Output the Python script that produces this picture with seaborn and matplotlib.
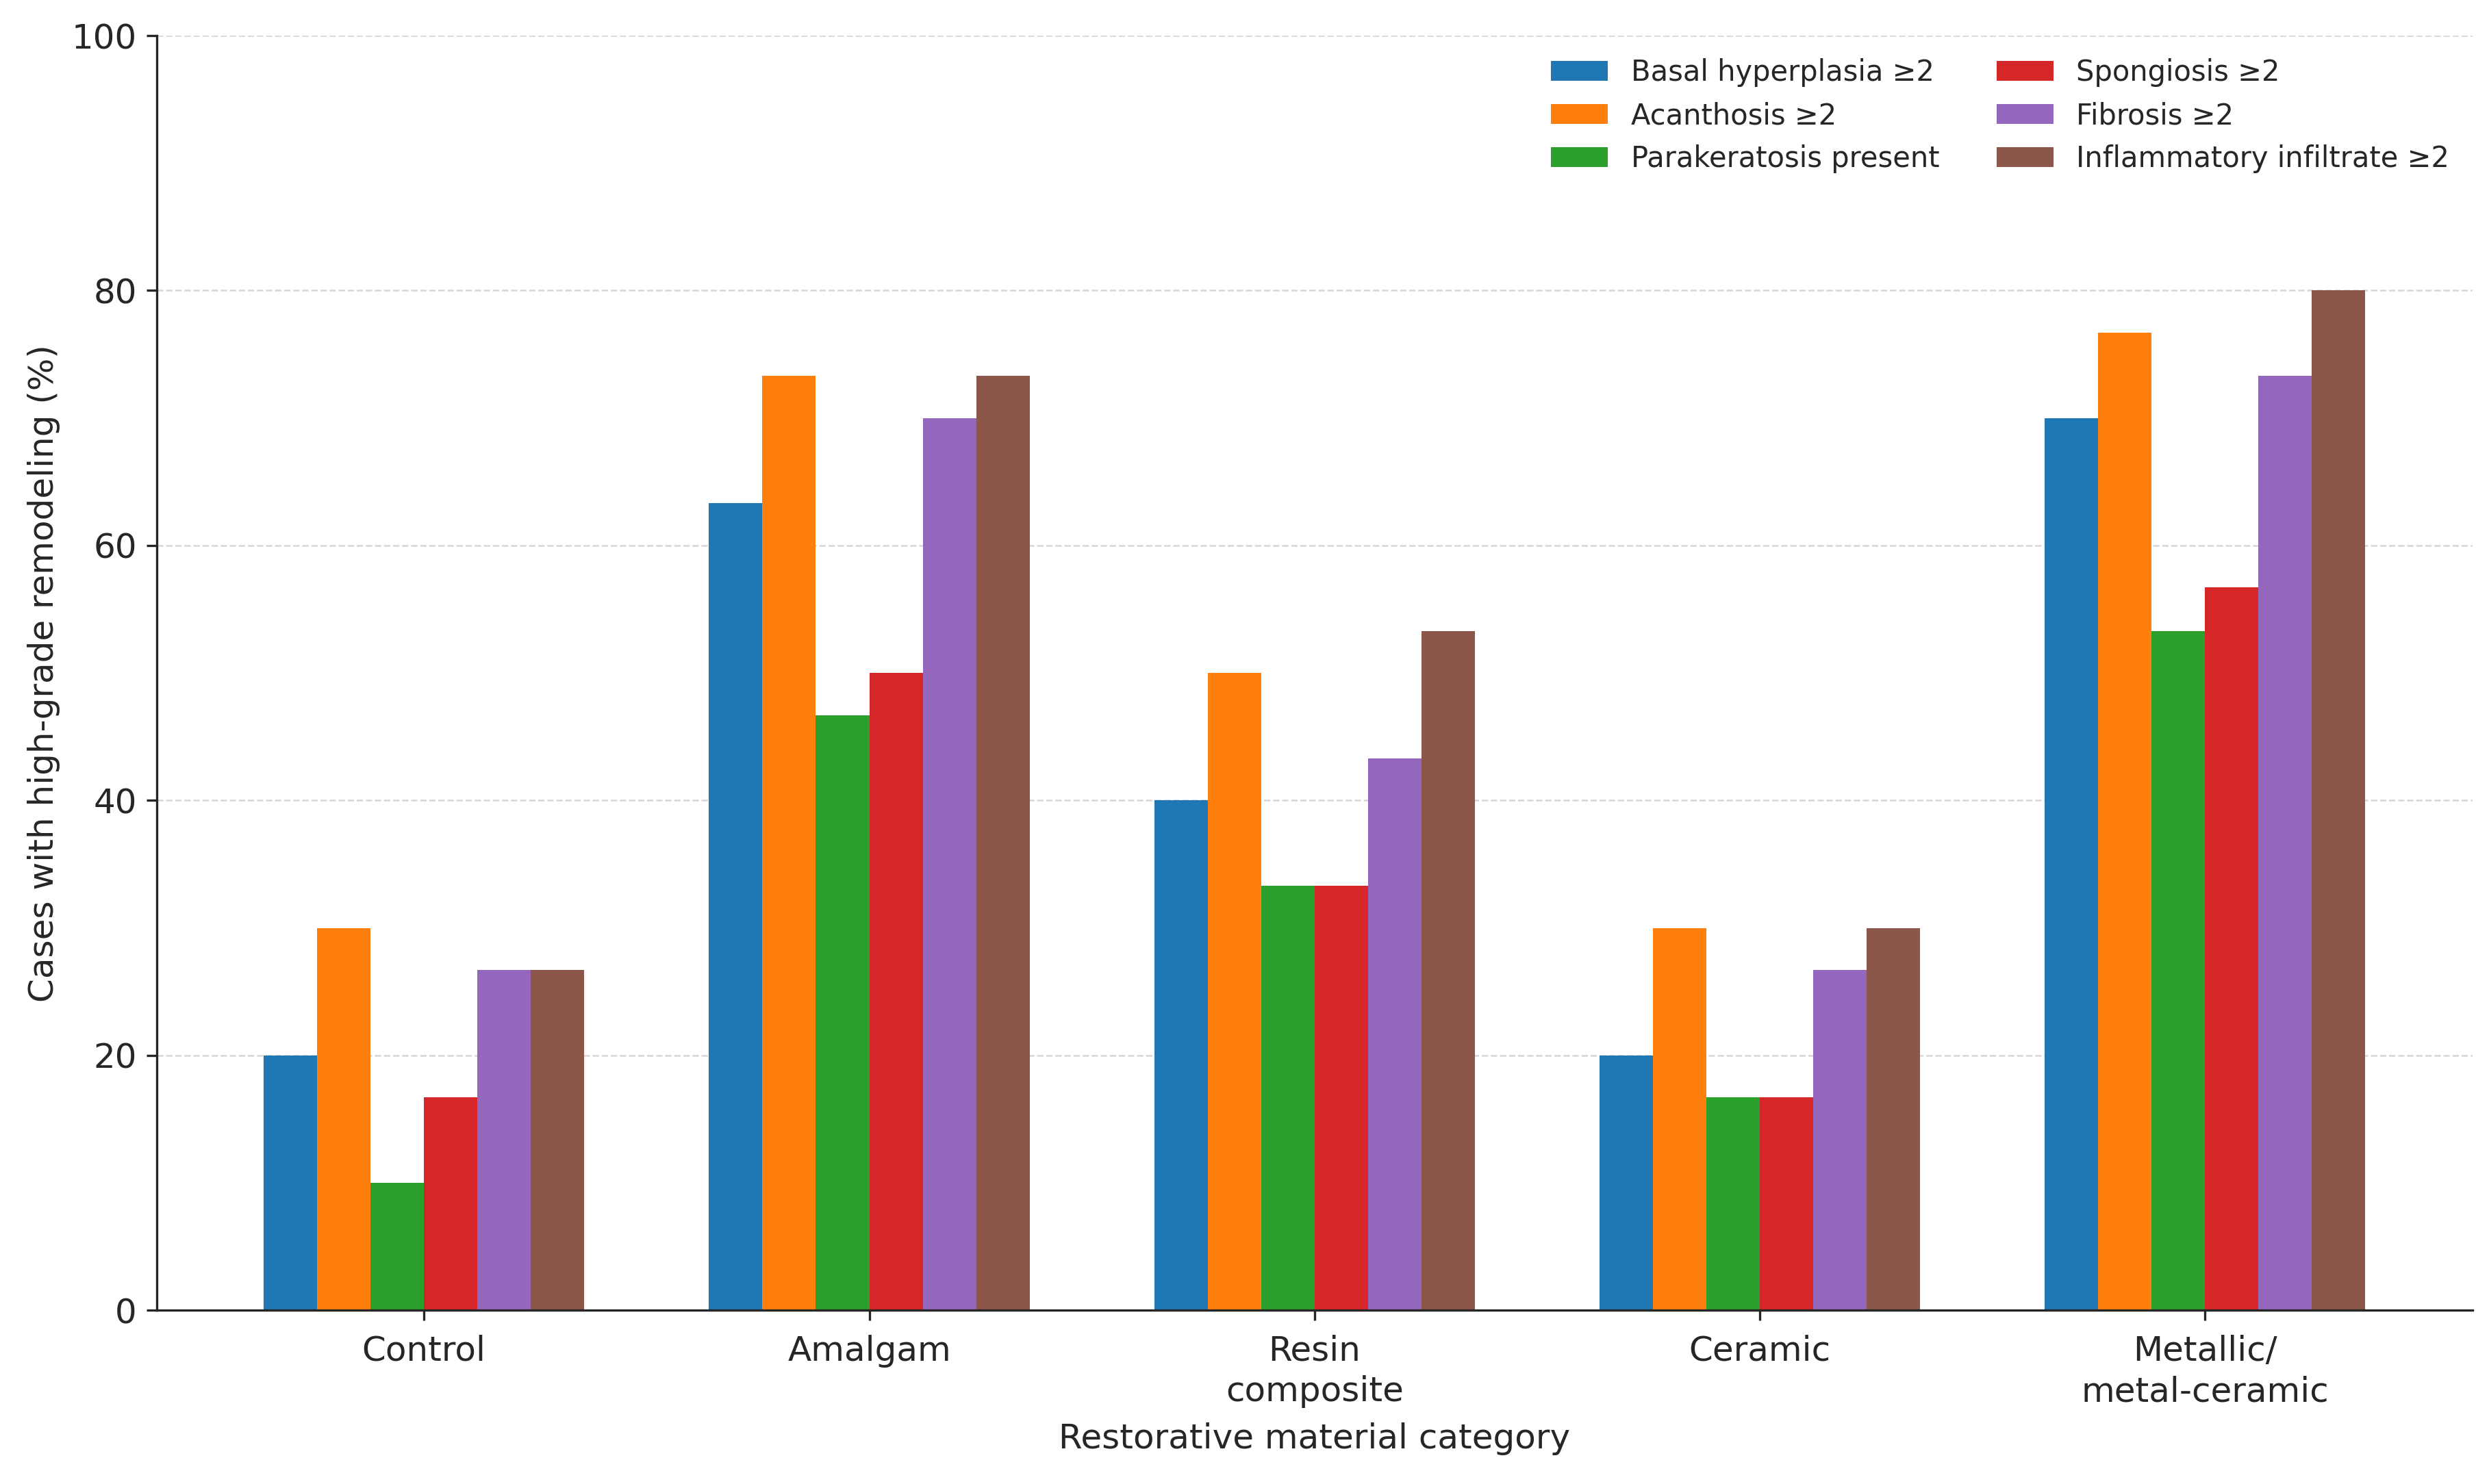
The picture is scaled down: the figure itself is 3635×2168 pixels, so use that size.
import pandas as pd
import seaborn as sns
import matplotlib.pyplot as plt

# values (% of cases)
materials = ["Control", "Amalgam", "Resin\ncomposite", "Ceramic", "Metallic/\nmetal-ceramic"]
features = ["Basal hyperplasia ≥2", "Acanthosis ≥2", "Parakeratosis present",
            "Spongiosis ≥2", "Fibrosis ≥2", "Inflammatory infiltrate ≥2"]
basal = [20.0, 63.3, 40.0, 20.0, 70.0]
acanthosis = [30.0, 73.3, 50.0, 30.0, 76.7]
parakeratosis = [10.0, 46.7, 33.3, 16.7, 53.3]
spongiosis = [16.7, 50.0, 33.3, 16.7, 56.7]
fibrosis = [26.7, 70.0, 43.3, 26.7, 73.3]
inflammation = [26.7, 73.3, 53.3, 30.0, 80.0]

series = [basal, acanthosis, parakeratosis, spongiosis, fibrosis, inflammation]
rows = []
for feat, vals in zip(features, series):
    for mat, v in zip(materials, vals):
        rows.append({"material": mat, "feature": feat, "pct": v})
df = pd.DataFrame(rows)

sns.set_style("ticks")
plt.rcParams['font.family'] = ['DejaVu Sans']

fig, ax = plt.subplots(figsize=(12.12, 7.227), dpi=300)
sns.barplot(data=df, x="material", y="pct", hue="feature", order=materials,
            hue_order=features, palette=sns.color_palette("tab10", 6),
            width=0.72, linewidth=0, saturation=1, errorbar=None, ax=ax)

ax.set_xlim(-0.6, 4.6)
ax.set_ylim(0, 100)
ax.set_yticks([0, 20, 40, 60, 80, 100])
ax.grid(axis="y", linestyle="--", color="#cccccc", alpha=0.8, linewidth=0.6)
ax.set_axisbelow(True)
ax.set_xlabel("Restorative material category", fontsize=12, labelpad=5)
ax.set_ylabel("Cases with high-grade remodeling (%)", fontsize=12)
ax.tick_params(axis="both", labelsize=12)
ax.tick_params(axis="x", pad=5)
for lbl in ax.get_xticklabels():
    lbl.set_linespacing(1.3)
sns.despine(ax=ax)

ax.legend(ncol=2, frameon=False, fontsize=10, loc="upper right",
          handlelength=2.0, columnspacing=2.0, borderaxespad=0.4)

fig.subplots_adjust(left=0.063, right=0.993, top=0.976, bottom=0.117)
fig.savefig("out.png", dpi=300)
